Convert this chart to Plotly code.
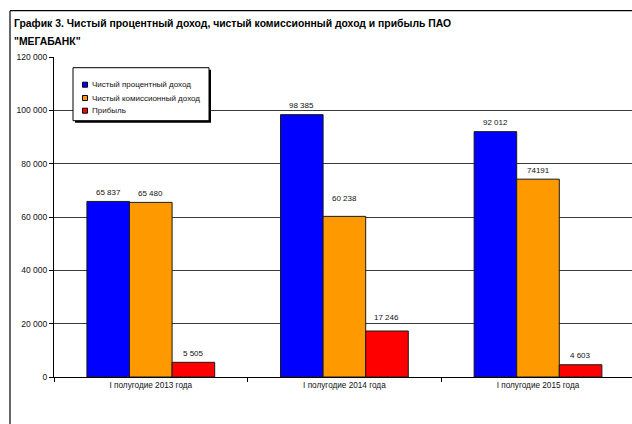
import plotly.graph_objects as go

# ---- data ----
categories = ["I полугодие 2013 года", "I полугодие 2014 года", "I полугодие 2015 года"]
series_names = ["Чистый процентный доход", "Чистый комиссионный доход", "Прибыль"]
net_interest = [65837, 98385, 92012]
net_commission = [65480, 60238, 74191]
profit = [5505, 17246, 4603]
label_interest = ["65 837", "98 385", "92 012"]
label_commission = ["65 480", "60 238", "74191"]
label_profit = ["5 505", "17 246", "4 603"]
y_ticks = [0, 20000, 40000, 60000, 80000, 100000, 120000]

title_line1 = "График 3. Чистый процентный доход, чистый комиссионный доход и прибыль ПАО"
title_line2 = "\"МЕГАБАНК\""

colors = ["#0000FF", "#FF9900", "#FF0000"]

# ---- geometry (pixels) ----
W, H = 632, 424
L, R, T, B = 54, 0, 57.3, 46.7
PW, PH = W - L - R, H - T - B
CAT_PX = 193.6
BARGAP = 0.34


def px_x(x):
    return (x - L) / PW


def px_y(y):
    return 1 - (y - T) / PH


FONT = "Liberation Sans, Arial, sans-serif"
TITLE_FONT = "Liberation Sans, Arial, sans-serif"

values = [net_interest, net_commission, profit]
labels = [label_interest, label_commission, label_profit]

fig = go.Figure()
for name, vals, col in zip(series_names, values, colors):
    fig.add_trace(go.Bar(
        name=name, x=categories, y=vals,
        marker=dict(color=col, line=dict(color="#1a1a1a", width=1)),
        showlegend=False, hoverinfo="skip",
    ))

annotations = []
bar_w = (1 - BARGAP) / 3
extra_shift = {(1, 1): 9, (2, 1): 5}
for si, (vals, labs) in enumerate(zip(values, labels)):
    for ci, (v, lab) in enumerate(zip(vals, labs)):
        annotations.append(dict(
            x=ci + (si - 1) * bar_w, y=v, xref="x", yref="y",
            text=lab, showarrow=False, yanchor="middle", xanchor="center",
            yshift=9 + extra_shift.get((si, ci), 0),
            font=dict(family=FONT, size=8, color="#111"),
        ))

# title lines
for line, ty in ((title_line1, 24), (title_line2, 42)):
    annotations.append(dict(
        x=px_x(12), y=px_y(ty), xref="paper", yref="paper", text="<b>" + line + "</b>",
        showarrow=False, xanchor="left", yanchor="middle",
        font=dict(family=TITLE_FONT, size=10.4, color="#000"),
    ))

shapes = []
# outer chart border (left and top edges)
shapes.append(dict(type="line", xref="paper", yref="paper",
                   x0=px_x(10), y0=px_y(11), x1=px_x(10), y1=px_y(H + 5),
                   line=dict(color="#000", width=1.2)))
shapes.append(dict(type="line", xref="paper", yref="paper",
                   x0=px_x(10), y0=px_y(11), x1=px_x(W + 5), y1=px_y(11),
                   line=dict(color="#000", width=1.2)))

# custom legend
LX0, LY0, LX1, LY1 = 73, 68, 209, 121
shapes.append(dict(type="rect", xref="paper", yref="paper",
                   x0=px_x(LX0 + 2), y0=px_y(LY0 + 2), x1=px_x(LX1 + 2), y1=px_y(LY1 + 2),
                   fillcolor="#000", line=dict(width=0)))
shapes.append(dict(type="rect", xref="paper", yref="paper",
                   x0=px_x(LX0), y0=px_y(LY0), x1=px_x(LX1), y1=px_y(LY1),
                   fillcolor="#fff", line=dict(color="#000", width=1)))
item_y = [85, 98.3, 111]
for name, col, iy in zip(series_names, colors, item_y):
    shapes.append(dict(type="rect", xref="paper", yref="paper",
                       x0=px_x(82.5), y0=px_y(iy - 2.5), x1=px_x(87.5), y1=px_y(iy + 2.5),
                       fillcolor=col, line=dict(color="#000", width=1)))
    annotations.append(dict(
        x=px_x(90), y=px_y(iy), xref="paper", yref="paper", text=name,
        showarrow=False, xanchor="left", yanchor="middle",
        font=dict(family=FONT, size=8, color="#111"),
    ))

fig.update_layout(
    width=W, height=H,
    margin=dict(l=L, r=R, t=T, b=B, pad=0),
    paper_bgcolor="#fff", plot_bgcolor="#fff",
    barmode="group", bargap=BARGAP, bargroupgap=0,
    separators=", ",
    showlegend=False,
    annotations=annotations, shapes=shapes,
    font=dict(family=FONT, size=8, color="#111"),
)
fig.update_xaxes(
    type="category", range=[-0.5, -0.5 + PW / CAT_PX],
    showline=True, linecolor="#000", linewidth=1,
    ticks="outside", tickson="boundaries", ticklen=4, tickcolor="#000",
    showgrid=False, zeroline=False,
    tickfont=dict(family=FONT, size=8.2, color="#111"),
)
fig.update_yaxes(
    range=[0, 120000], tickvals=y_ticks, tickformat=",d",
    showline=True, linecolor="#000", linewidth=1,
    ticks="outside", ticklen=4, tickcolor="#000",
    showgrid=True, gridcolor="#3a3a3a", gridwidth=1, zeroline=False,
    tickfont=dict(family=FONT, size=8.5, color="#111"),
)

fig.write_html(
    "out.html",
    config={"displayModeBar": False},
    post_script="document.body.style.margin='0';document.body.style.overflow='hidden';",
)
